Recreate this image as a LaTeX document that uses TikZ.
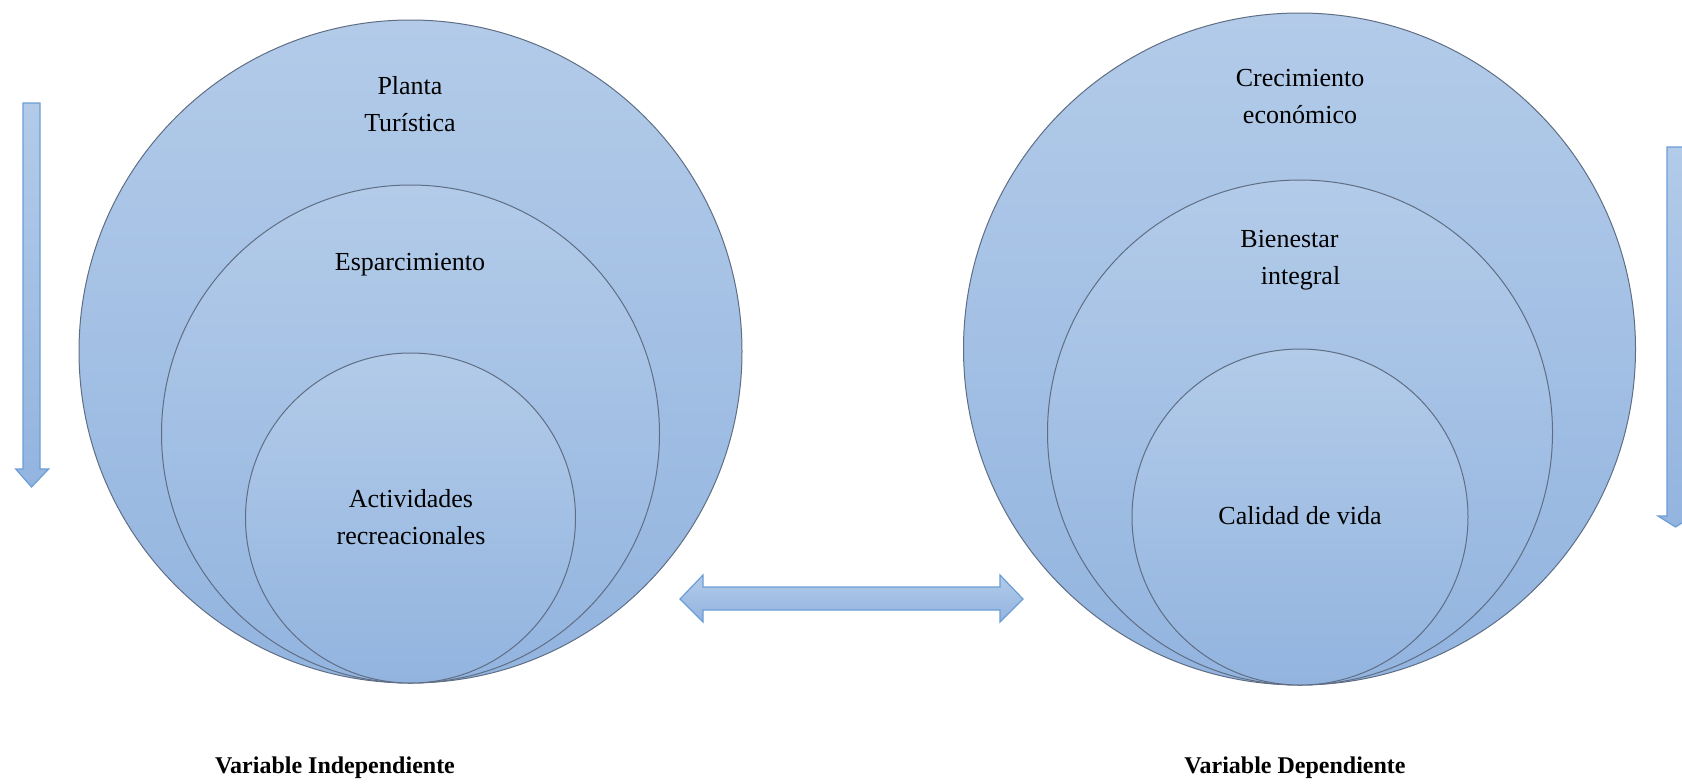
\documentclass[tikz,border=0pt]{standalone}
\usepackage{fontspec}
\setmainfont{Liberation Serif}

\definecolor{fillTop}{HTML}{B3CBE9}
\definecolor{fillBot}{HTML}{92B4DF}
\definecolor{ringLine}{HTML}{5F6E84}
\definecolor{arrowLine}{HTML}{6C9ED6}

\begin{document}
\begin{tikzpicture}[x=0.5pt,y=-0.5pt,
    ring/.style={circle,draw=ringLine,line width=0.5pt,top color=fillTop,bottom color=fillBot,inner sep=0pt},
    lbl/.style={align=center,font=\fontsize{13}{18.5}\selectfont},
    blockarrow/.style={draw=arrowLine,line width=0.6pt,top color=fillTop,bottom color=fillBot}]
    \useasboundingbox (0,0) rectangle (1682,783);

    % variable independiente
    \node[ring,minimum size=331.5pt] (planta) at (410.5,351.5) {};
    \node[ring,minimum size=249pt] (esparc) at (410.5,434) {};
    \node[ring,minimum size=165pt] (activ) at (410.5,518) {};

    \node[lbl] (tplanta) at (410,104.5) {Planta\\Turística};
    \node[lbl] (tesparc) at (410,265) {Esparcimiento};
    \node[lbl] (tactiv) at (411,517.5) {Actividades\\recreacionales};

    % variable dependiente
    \node[ring,minimum size=336pt] (crec) at (1299.5,349) {};
    \node[ring,minimum size=252.5pt] (bien) at (1300,432.5) {};
    \node[ring,minimum size=168pt] (calid) at (1300,517) {};

    \node[lbl] (tcrec) at (1300,97) {Crecimiento\\económico};
    \node[lbl] (tbien) at (1289.5,260) {Bienestar\\\hspace*{11pt}integral};
    \node[lbl] (tcalid) at (1300,516) {Calidad de vida};

    % flechas
    \draw[blockarrow] (23,103) -- (40,103) -- (40,469) -- (48.7,469) -- (31.5,487)
        -- (15.7,469) -- (23,469) -- cycle;
    \draw[blockarrow] (1667,147) -- (1684,147) -- (1684,516) -- (1693,516) -- (1675.5,527)
        -- (1658,516) -- (1667,516) -- cycle;
    \draw[blockarrow] (680,599) -- (703,575) -- (703,587) -- (1000,587) -- (1000,575)
        -- (1023,599) -- (1000,622) -- (1000,610) -- (703,610) -- (703,622) -- cycle;

    \node[lbl,font=\fontsize{12}{14}\selectfont\bfseries] (indep) at (335,768) {Variable Independiente};
    \node[lbl,font=\fontsize{12}{14}\selectfont\bfseries] (dep) at (1295,768) {Variable Dependiente};
\end{tikzpicture}
\end{document}
